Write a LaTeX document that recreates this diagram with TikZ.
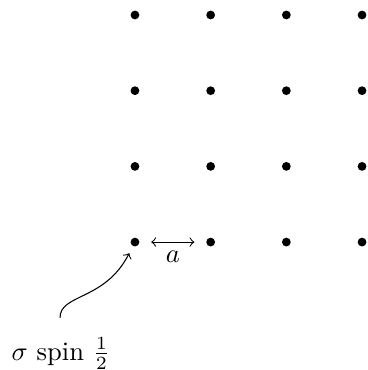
\documentclass[tikz,border=0pt]{standalone}
\begin{document}
\begin{tikzpicture}[
  dot/.style={circle, fill=black, inner sep=0pt, minimum size=3.3pt},
  lbl/.style={inner sep=0pt, anchor=base}
]
\useasboundingbox (-1.783,-1.69) rectangle (3.078,3.198);
\foreach \i in {0,...,3}{
  \foreach \j in {0,...,3}{
    \node[dot] (d\i\j) at (\i,\j) {};
  }
}
\draw[<->, shorten <=0.15cm, shorten >=0.15cm] (d00) -- node[below] {$a$} (d10);
\node[lbl] (spin) at (-0.98,-1.56) {$\sigma$ spin $\frac{1}{2}$};
\coordinate (s) at (-0.99,-1.0);
\draw[->, shorten >=0.1cm] (s) .. controls (-0.99,-0.68) and (-0.4,-0.78) .. (d00);
\end{tikzpicture}
\end{document}
